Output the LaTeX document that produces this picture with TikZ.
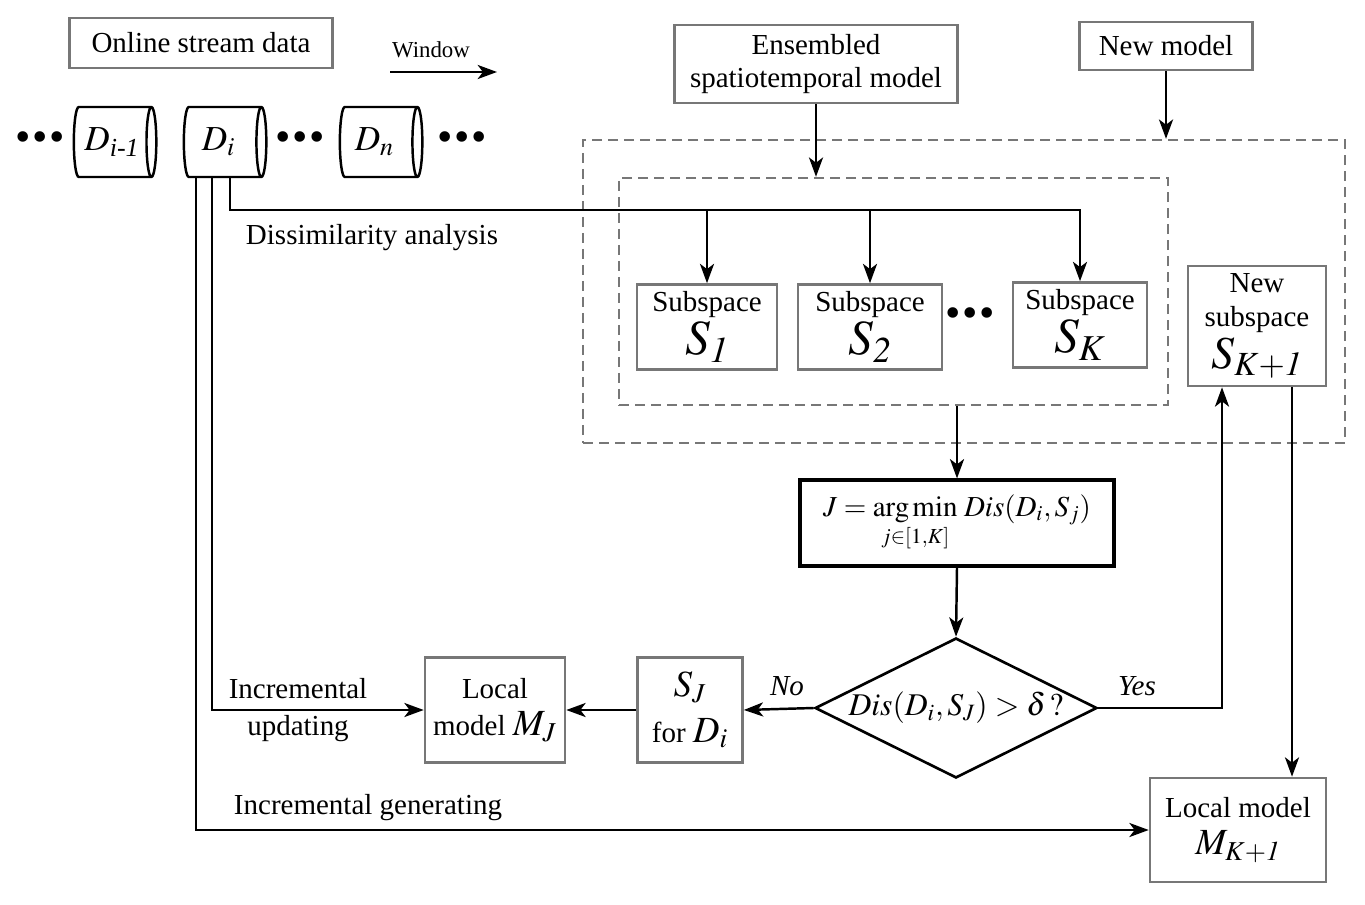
\documentclass[tikz,border=0pt]{standalone}
\usepackage{amsmath}
\usepackage{mathptmx}
\usepackage{fontspec}
\setmainfont{Liberation Serif}
\usetikzlibrary{positioning, calc, shapes.geometric, arrows.meta}
\definecolor{boxgray}{HTML}{777777}
\tikzset{
  gbox/.style={draw=boxgray, line width=1.5pt, align=center, inner sep=1pt, fill=white},
  dashbox/.style={draw=boxgray, line width=1.4pt, dash pattern=on 0.2cm off 0.12cm},
  drum/.style={cylinder, draw, line width=1.4pt, aspect=0.35, minimum width=1.4cm, minimum height=1.65cm, inner sep=0pt, font=\fontsize{20}{20}\selectfont},
  conn/.style={line width=1.4pt},
  arr/.style={conn, -{Stealth[length=11pt, width=8pt, inset=3pt]}},
  bigdots/.style={font=\fontsize{25}{25}\selectfont}
}

\begin{document}
\begin{tikzpicture}[x=0.02cm, y=-0.02cm, font=\fontsize{16.5}{19}\selectfont]
\useasboundingbox (0,0) rectangle (1365,905);
%% data stream
  \node[gbox, minimum width=5.26cm, minimum height=1cm] (online) at (201,43) {Online stream data};
  \node (win) at (431,50) {\fontsize{13}{15}\selectfont Window};
  \coordinate (w1) at (390,72);
  \coordinate (w2) at (497,72);
  \draw[arr] (w1) -- (w2);
  \node[bigdots] (d0) at (40,142) {•\kern1pt•\kern1pt•};
  \node[drum] (Dim) at (112,142) {$D_{\textit{i-1}}$};
  \node[drum] (Di) at (222,142) {$D_{\mathit{i}}$\kern4pt};
  \node[bigdots] (d1) at (300,142) {•\kern1pt•\kern1pt•};
  \node[drum] (Dn) at (378,142) {$D_{\mathit{n}}$\kern4pt};
  \node[bigdots] (d2) at (462,142) {•\kern1pt•\kern1pt•};
%% ensemble
  \node[gbox, minimum width=5.66cm, minimum height=1.56cm] (ens) at (816,64) {Ensembled\\spatiotemporal model};
  \node[gbox, minimum width=3.46cm, minimum height=0.96cm] (newm) at (1166,46) {New model};
  \node[dashbox, minimum width=15.24cm, minimum height=6.06cm] (outer) at (964,291.5) {};
  \node[dashbox, minimum width=10.98cm, minimum height=4.54cm] (inner) at (893.5,291.5) {};
  \node[gbox, minimum width=2.8cm, minimum height=1.7cm] (S1) at (707,327) {Subspace\\[1pt]{\fontsize{28}{28}\selectfont$S_{\mathit{1}}$}};
  \node[gbox, minimum width=2.88cm, minimum height=1.7cm] (S2) at (870,327) {Subspace\\[1pt]{\fontsize{28}{28}\selectfont$S_{\mathit{2}}$}};
  \node[bigdots] (d3) at (970,318) {•\kern1pt•\kern1pt•};
  \node[gbox, minimum width=2.68cm, minimum height=1.7cm] (SK) at (1080,325) {Subspace\\[1pt]{\fontsize{28}{28}\selectfont$S_K$}};
  \node[gbox, minimum width=2.76cm, minimum height=2.4cm] (newS) at (1257,326) {New\\subspace\\[2pt]{\fontsize{26}{26}\selectfont$S_{K+\mathit{1}}$}};
%% decision
  \node[draw, line width=1.8pt, minimum width=6.28cm, minimum height=1.72cm] (argm) at (957,523)
    {$J=\underset{j\in[1,K]}{\arg\min}\;\mathit{Dis}(D_i,S_j)$};
  \node[diamond, draw, line width=1.5pt, aspect=2, minimum width=5.64cm, minimum height=2.8cm, inner sep=-3pt] (dec) at (956,708)
    {\fontsize{18}{18}\selectfont$\mathit{Dis}(D_i,S_J)>\delta\,?$};
  \node[gbox, minimum width=2.1cm, minimum height=2.1cm] (SJ) at (690,710) {{\fontsize{21}{21}\selectfont$S_J$}\\[7pt]for {\fontsize{21}{21}\selectfont$D_{\mathit{i}}$}};
  \node[gbox, minimum width=2.8cm, minimum height=2.1cm] (MJ) at (495,710) {Local\\[2pt]model {\fontsize{21}{21}\selectfont$M_J$}};
  \node[gbox, minimum width=3.52cm, minimum height=2.08cm] (MK) at (1238,830) {Local model\\[2pt]{\fontsize{21}{21}\selectfont$M_{K+\mathit{1}}$}};
%% labels
  \node (dis) at (372,238) {Dissimilarity analysis};
  \node[align=center] (upd) at (298,710) {Incremental\\[2pt]updating};
  \node (gen) at (368,808) {Incremental generating};
  \node (no) at (787,686) {\textit{No}};
  \node (yes) at (1137,686) {\textit{Yes}};
%% connectors
  \coordinate (bus) at (700,210);
  \draw[arr] ($(Di.south)+(8,0)$) |- (bus -| SK.north) -- (SK.north);
  \draw[arr] (bus -| S1.north) -- (S1.north);
  \draw[arr] (bus -| S2.north) -- (S2.north);
  \draw[arr] (ens.south) -- (ens.south |- inner.north);
  \draw[arr] (newm.south) -- (newm.south |- outer.north);
  \draw[arr] (argm.north |- inner.south) -- (argm.north);
  \draw[arr] (argm.south) -- (dec.north);
  \draw[arr] (dec.west) -- (SJ.east);
  \draw[arr] (SJ.west) -- (MJ.east);
  \coordinate (ny) at ($(newS.south)+(-35,0)$);
  \coordinate (nm) at ($(newS.south)+(35,0)$);
  \draw[arr] (dec.east) -| (ny);
  \draw[arr] (nm) -- (nm |- MK.north);
  \draw[arr] ($(Di.south)+(-10,0)$) |- (MJ.west);
  \draw[arr] ($(Di.south)+(-26,0)$) |- (MK.west);
\end{tikzpicture}
\end{document}
